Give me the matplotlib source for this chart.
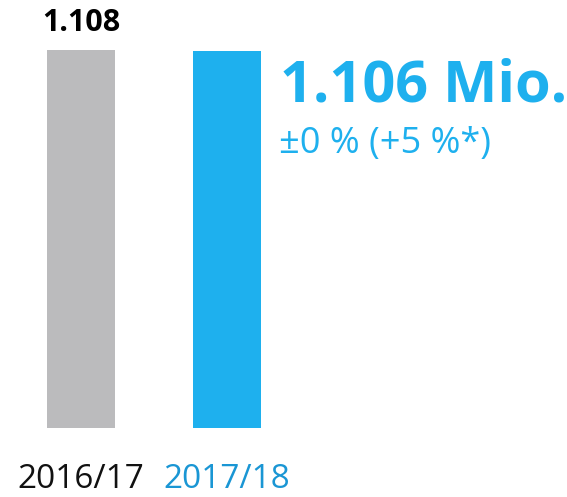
import matplotlib
matplotlib.use('Agg')
import matplotlib.pyplot as plt

# dados
anos = ['2016/17', '2017/18']
valores = [1108, 1106]   # mil
cores_barras = ['#BBBBBD', '#1EB0EE']
cores_rotulos = ['#111111', '#1A96D4']

plt.rcParams['font.family'] = ['Open Sans', 'DejaVu Sans']

W, H = 567, 497
fig = plt.figure(figsize=(W / 100, H / 100), dpi=100)

# eixo: base das barras em y=428 px, topo (1108) em y=50 px
ax = fig.add_axes([0, (H - 428) / H, 1, (428 - 50) / H])
passo = 146.0
ax.bar([0, 1], valores, width=68 / passo, color=cores_barras)
ax.set_xlim(-81 / passo, (W - 81) / passo)
ax.set_ylim(0, max(valores))
ax.axis('off')

# valor acima da barra cinza (linha de base em y=31 px)
ax.text(0, max(valores) + 19 * max(valores) / 378, f'{valores[0] / 1000:.3f}',
        ha='center', va='baseline', fontsize=22, fontweight='bold', color='black')

# destaque ao lado da barra azul
fig.text(280 / W, 1 - 102 / H, f'{valores[1] / 1000:.3f} Mio.',
         ha='left', va='baseline', fontsize=41.5, fontweight='bold', color=cores_barras[1])
fig.text(279 / W, 1 - 153 / H, '±0 % (+5 %*)',
         ha='left', va='baseline', fontsize=26, color=cores_barras[1])

# rótulos dos anos
for i, (ano, cor) in enumerate(zip(anos, cores_rotulos)):
    ax.text(i, -60 * max(valores) / 378, ano, ha='center', va='baseline',
            fontsize=24, color=cor)

fig.savefig('out.png', dpi=100)
